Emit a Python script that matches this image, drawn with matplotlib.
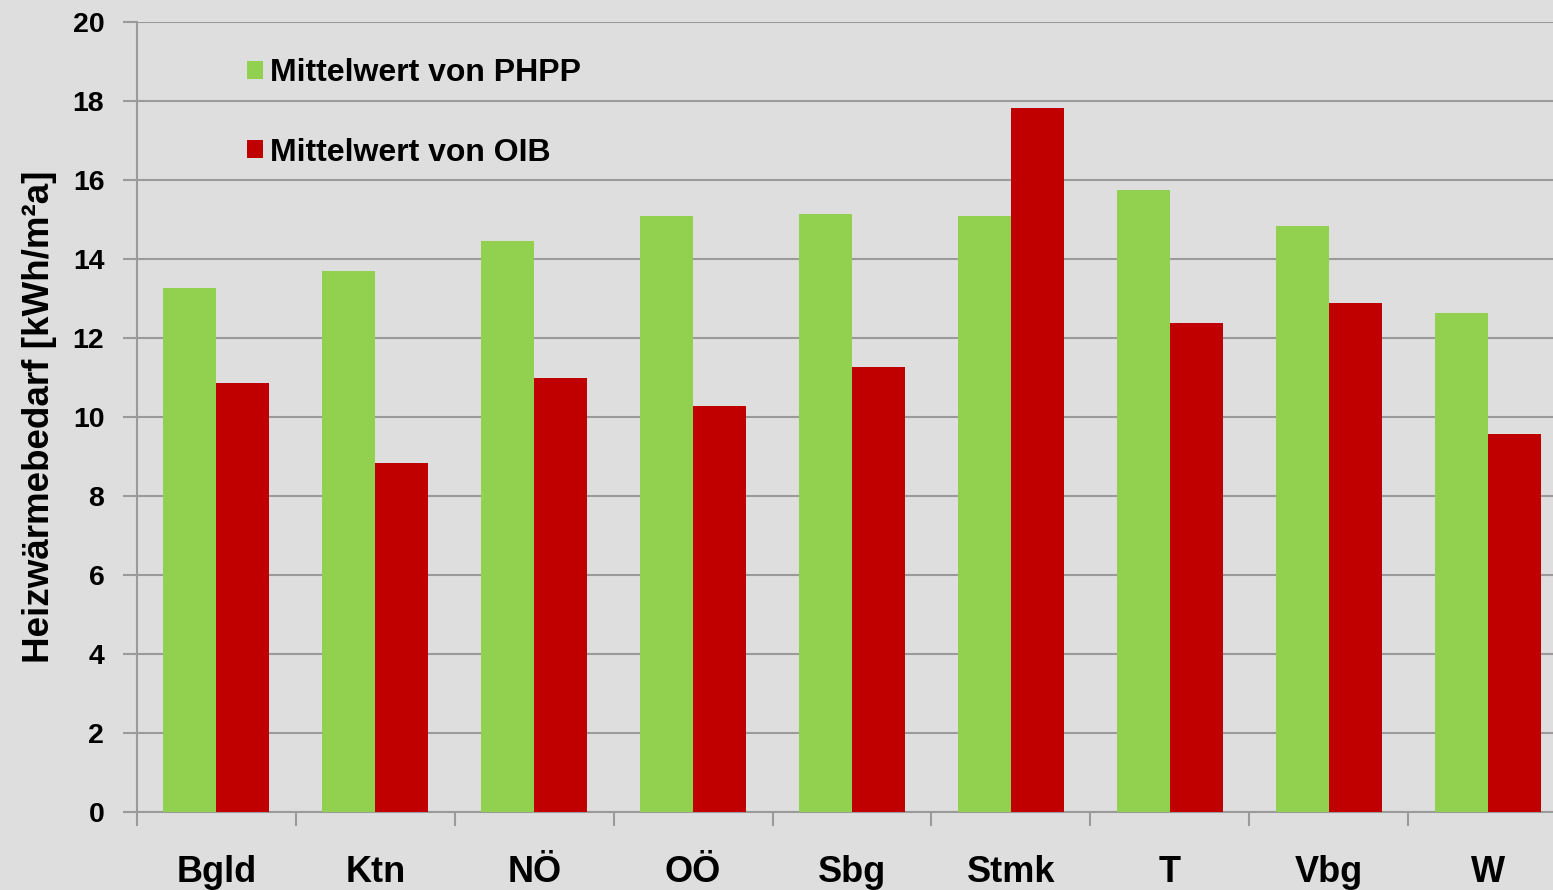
import matplotlib
matplotlib.use("Agg")
import matplotlib.pyplot as plt
import numpy as np
from matplotlib.patches import Patch

categories = ["Bgld", "Ktn", "NÖ", "OÖ", "Sbg", "Stmk", "T", "Vbg", "W"]
phpp = [13.27, 13.70, 14.46, 15.09, 15.14, 15.09, 15.75, 14.84, 12.63]
oib = [10.86, 8.84, 10.99, 10.28, 11.27, 17.82, 12.38, 12.89, 9.57]
series_labels = ["Mittelwert von PHPP", "Mittelwert von OIB"]
y_label = "Heizwärmebedarf [kWh/m²a]"
yticks = [0, 2, 4, 6, 8, 10, 12, 14, 16, 18, 20]

green = "#92D050"
red = "#C00000"
bg = "#DEDEDE"
gridc = "#9A9A9A"

plt.rcParams['font.family'] = ['Liberation Sans', 'DejaVu Sans']
plt.rcParams['font.weight'] = 'bold'

W, H = 1553, 890
fig = plt.figure(figsize=(W / 100, H / 100), dpi=100)
fig.patch.set_facecolor(bg)
ax = fig.add_axes([137 / W, 78 / H, (1567 - 137) / W, (812 - 22) / H])
ax.set_facecolor(bg)

x = np.arange(len(categories))
bw = 53 / 159
ax.bar(x - bw / 2, phpp, width=bw, color=green, zorder=3, label=series_labels[0])
ax.bar(x + bw / 2, oib, width=bw, color=red, zorder=3, label=series_labels[1])

ax.set_xlim(-0.5, len(categories) - 0.5)
ax.set_ylim(0, 20)
ax.set_yticks(yticks)
ax.set_yticklabels([str(t) for t in yticks], fontsize=20.5, fontweight='bold')
ax.yaxis.grid(True, color=gridc, linewidth=1.5, zorder=0)
ax.set_axisbelow(True)

ax.set_xticks(np.arange(len(categories) + 1) - 0.5)
ax.set_xticklabels([])
ax.set_xticks(x, minor=True)
ax.set_xticklabels(categories, minor=True, fontsize=26, fontweight='bold')
ax.tick_params(axis='x', which='minor', length=0, pad=31)
ax.tick_params(axis='x', which='major', length=10, width=1.5, color=gridc)
ax.tick_params(axis='y', length=10, width=1.5, color=gridc, pad=13.5)

for s in ['top', 'right']:
    ax.spines[s].set_visible(False)
for s in ['left', 'bottom']:
    ax.spines[s].set_color(gridc)
    ax.spines[s].set_linewidth(1.5)

ax.set_ylabel(y_label, fontsize=26.5, fontweight='bold', labelpad=11)

handles = [Patch(facecolor=green, edgecolor='none'), Patch(facecolor=red, edgecolor='none')]
ax.legend(handles, series_labels, loc='upper left', bbox_to_anchor=((247 - 137) / 1430, (812 - 58) / 790),
          frameon=False, prop={'weight': 'bold', 'size': 23},
          handlelength=0.5, handleheight=0.5, handletextpad=0.22, labelspacing=1.55,
          borderpad=0, borderaxespad=0)

fig.savefig("out.png", dpi=100, facecolor=bg)
